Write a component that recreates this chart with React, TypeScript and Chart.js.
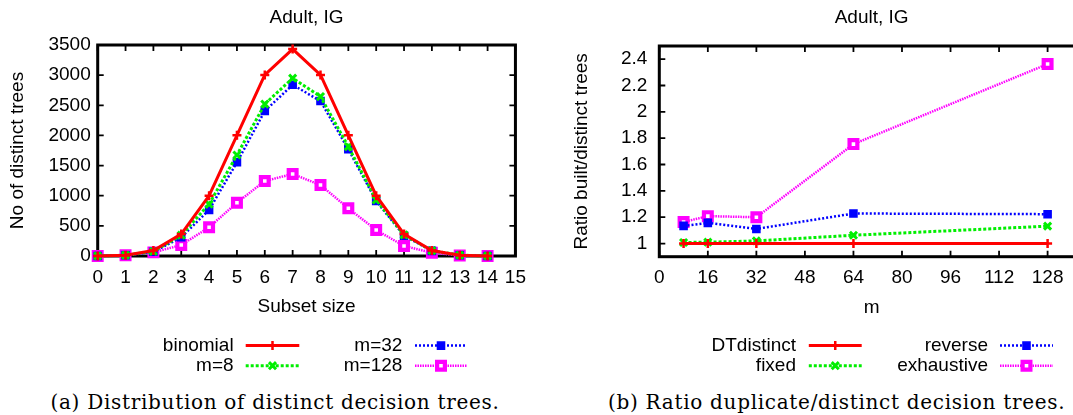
import React, { useEffect, useRef } from 'react';
import { Chart, registerables } from 'chart.js';
import { drawPoint } from 'chart.js/helpers';

Chart.register(...registerables);

// ---------- data ----------
const chartTitle = 'Adult, IG';

const subsetSizes = [0, 1, 2, 3, 4, 5, 6, 7, 8, 9, 10, 11, 12, 13, 14];
const binomial = [1, 14, 91, 364, 1001, 2002, 3003, 3432, 3003, 2002, 1001, 364, 91, 14, 1];
const m8 = [1, 13, 75, 345, 860, 1675, 2520, 2950, 2645, 1815, 930, 350, 88, 14, 1];
const m32 = [1, 13, 70, 310, 765, 1555, 2405, 2840, 2570, 1770, 912, 337, 85, 13, 1];
const m128 = [1, 12, 60, 182, 476, 884, 1244, 1360, 1177, 791, 431, 166, 55, 8, 1];

const leftXTicks = [0, 1, 2, 3, 4, 5, 6, 7, 8, 9, 10, 11, 12, 13, 14, 15];
const leftYTicks = [0, 500, 1000, 1500, 2000, 2500, 3000, 3500];

const mValues = [8, 16, 32, 64, 128];
const dtDistinct = [1, 1, 1, 1, 1];
const fixedRatio = [1.008, 1.01, 1.02, 1.063, 1.132];
const reverseRatio = [1.134, 1.157, 1.111, 1.228, 1.223];
const exhaustiveRatio = [1.164, 1.208, 1.2, 1.755, 2.363];

const rightXTicks = [0, 16, 32, 48, 64, 80, 96, 112, 128];
const rightYTicks = [1, 1.2, 1.4, 1.6, 1.8, 2, 2.2, 2.4];

const leftLabels = ['binomial', 'm=8', 'm=32', 'm=128'];
const rightLabels = ['DTdistinct', 'fixed', 'reverse', 'exhaustive'];

// ---------- styles ----------
type Sty = {
  color: string; width: number; dash: number[];
  pointStyle: string; radius: number; pointBorder: number; fill: string;
};
const STY: Sty[] = [
  { color: '#ff0000', width: 3, dash: [], pointStyle: 'cross', radius: 4.5, pointBorder: 2.5, fill: '#ff0000' },
  { color: '#00ee00', width: 3, dash: [3, 2], pointStyle: 'crossRot', radius: 5, pointBorder: 3, fill: '#00ee00' },
  { color: '#0000ff', width: 2.5, dash: [2, 2], pointStyle: 'rect', radius: 5, pointBorder: 1.5, fill: '#0000ff' },
  { color: '#ff00ff', width: 2.5, dash: [1.5, 1], pointStyle: 'rect', radius: 5.5, pointBorder: 4.2, fill: '#ffffff' },
];

const FONT_FAMILY = '"Liberation Sans", Arial, Helvetica, sans-serif';
const tickFont = { family: FONT_FAMILY, size: 19 };

function ds(label: string, xs: number[], ys: number[], s: Sty) {
  return {
    label,
    data: xs.map((x, i) => ({ x, y: ys[i] })),
    borderColor: s.color,
    backgroundColor: s.color,
    borderWidth: s.width,
    borderDash: s.dash,
    pointStyle: s.pointStyle,
    pointRadius: s.radius,
    pointBorderWidth: s.pointBorder,
    pointBorderColor: s.color,
    pointBackgroundColor: s.fill,
    tension: 0,
    clip: false as any,
  };
}

type LegendPos = { labelRight: number; x1: number; x2: number; y: number };

function decorPlugin(title: string, labels: string[], legendPos: LegendPos[], mirrorY: boolean) {
  return {
    id: 'decor',
    beforeDatasetsDraw(chart: any) {
      const { ctx, chartArea } = chart;
      const { left, right, top, bottom } = chartArea;
      const xs = chart.scales.x;
      const ys = chart.scales.y;
      ctx.save();
      ctx.strokeStyle = '#000';
      ctx.setLineDash([]);
      ctx.lineWidth = 1.8;
      const tl = 6;
      ctx.beginPath();
      for (const t of xs.ticks) {
        const px = xs.getPixelForValue(t.value);
        ctx.moveTo(px, bottom);
        ctx.lineTo(px, bottom - tl);
        ctx.moveTo(px, top);
        ctx.lineTo(px, top + tl);
      }
      for (const t of ys.ticks) {
        const py = ys.getPixelForValue(t.value);
        ctx.moveTo(left, py);
        ctx.lineTo(left + tl, py);
        if (mirrorY) {
          ctx.moveTo(right, py);
          ctx.lineTo(right - tl, py);
        }
      }
      ctx.stroke();
      ctx.lineWidth = 3;
      ctx.strokeRect(left, top, right - left, bottom - top);
      ctx.restore();
    },
    afterDraw(chart: any) {
      const { ctx, chartArea } = chart;
      ctx.save();
      ctx.fillStyle = '#000';
      ctx.font = `19px ${FONT_FAMILY}`;
      ctx.textAlign = 'center';
      ctx.textBaseline = 'middle';
      ctx.fillText(title, (chartArea.left + chartArea.right) / 2, 18);
      labels.forEach((lab, i) => {
        const p = legendPos[i];
        const s = STY[i];
        ctx.fillStyle = '#000';
        ctx.textAlign = 'right';
        ctx.fillText(lab, p.labelRight, p.y);
        ctx.strokeStyle = s.color;
        ctx.lineWidth = s.width;
        ctx.setLineDash(s.dash);
        ctx.beginPath();
        ctx.moveTo(p.x1, p.y);
        ctx.lineTo(p.x2, p.y);
        ctx.stroke();
        ctx.setLineDash([]);
        ctx.fillStyle = s.fill;
        ctx.strokeStyle = s.color;
        ctx.lineWidth = s.pointBorder;
        drawPoint(ctx, { pointStyle: s.pointStyle as any, radius: s.radius, borderWidth: s.pointBorder, rotation: 0 }, (p.x1 + p.x2) / 2, p.y);
      });
      ctx.restore();
    },
  };
}

function axisTitle(text: string, padding: any) {
  return { display: true, text, color: '#000', font: tickFont, padding };
}

function LeftChart() {
  const ref = useRef<HTMLCanvasElement>(null);
  useEffect(() => {
    const legendPos: LegendPos[] = [
      { labelRight: 233.6, x1: 245.7, x2: 299.3, y: 345.6 },
      { labelRight: 233.6, x1: 245.7, x2: 299.3, y: 365.7 },
      { labelRight: 402.4, x1: 415, x2: 467, y: 345.6 },
      { labelRight: 402.4, x1: 415, x2: 467, y: 365.7 },
    ];
    const chart = new Chart(ref.current as HTMLCanvasElement, {
      type: 'line',
      data: {
        datasets: [
          ds(leftLabels[0], subsetSizes, binomial, STY[0]),
          ds(leftLabels[1], subsetSizes, m8, STY[1]),
          ds(leftLabels[2], subsetSizes, m32, STY[2]),
          ds(leftLabels[3], subsetSizes, m128, STY[3]),
        ] as any,
      },
      options: {
        animation: false,
        responsive: false,
        devicePixelRatio: 1,
        layout: { padding: { top: 45, right: 13.3, bottom: 60, left: 0 } },
        plugins: { legend: { display: false }, tooltip: { enabled: false }, title: { display: false } },
        scales: {
          x: {
            type: 'linear', min: 0, max: 15,
            afterBuildTicks: (s: any) => { s.ticks = leftXTicks.map((v) => ({ value: v })); },
            afterFit: (s: any) => { s.height = 64; },
            grid: { display: false, drawTicks: false },
            border: { display: false },
            ticks: { padding: 10, color: '#000', font: tickFont, maxRotation: 0, autoSkip: false, callback: (v: any) => String(v) },
            title: axisTitle('Subset size', { top: 0, bottom: 1.6 }),
          },
          y: {
            type: 'linear', min: 0, max: 3500,
            afterBuildTicks: (s: any) => { s.ticks = leftYTicks.map((v) => ({ value: v })); },
            afterFit: (s: any) => { s.width = 97.7; },
            grid: { display: false, drawTicks: false },
            border: { display: false },
            ticks: { padding: 7, color: '#000', font: tickFont, autoSkip: false, callback: (v: any) => String(v) },
            title: axisTitle('No of distinct trees', { top: 6.6, bottom: 0 }),
          },
        },
      } as any,
      plugins: [decorPlugin(chartTitle, leftLabels, legendPos, true)],
    });
    return () => chart.destroy();
  }, []);
  return <canvas ref={ref} width={536} height={380} style={{ position: 'absolute', left: 0, top: 0 }} />;
}

function RightChart() {
  const ref = useRef<HTMLCanvasElement>(null);
  useEffect(() => {
    const legendPos: LegendPos[] = [
      { labelRight: 260, x1: 272.8, x2: 325.7, y: 345.6 },
      { labelRight: 260, x1: 272.8, x2: 325.7, y: 365.7 },
      { labelRight: 452, x1: 464, x2: 517, y: 345.6 },
      { labelRight: 452, x1: 464, x2: 517, y: 365.7 },
    ];
    const chart = new Chart(ref.current as HTMLCanvasElement, {
      type: 'line',
      data: {
        datasets: [
          ds(rightLabels[0], mValues, dtDistinct, STY[0]),
          ds(rightLabels[1], mValues, fixedRatio, STY[1]),
          ds(rightLabels[2], mValues, reverseRatio, STY[2]),
          ds(rightLabels[3], mValues, exhaustiveRatio, STY[3]),
        ] as any,
      },
      options: {
        animation: false,
        responsive: false,
        devicePixelRatio: 1,
        layout: { padding: { top: 46, right: 12, bottom: 59.3, left: 0 } },
        plugins: { legend: { display: false }, tooltip: { enabled: false }, title: { display: false } },
        scales: {
          x: {
            type: 'linear', min: 0, max: 140,
            afterBuildTicks: (s: any) => { s.ticks = rightXTicks.map((v) => ({ value: v })); },
            afterFit: (s: any) => { s.height = 64; },
            grid: { display: false, drawTicks: false },
            border: { display: false },
            ticks: { padding: 10, color: '#000', font: tickFont, maxRotation: 0, autoSkip: false, callback: (v: any) => String(v) },
            title: axisTitle('m', { top: 0, bottom: 1.6 }),
          },
          y: {
            type: 'linear', min: 0.9, max: 2.5,
            afterBuildTicks: (s: any) => { s.ticks = rightYTicks.map((v) => ({ value: v })); },
            afterFit: (s: any) => { s.width = 123.3; },
            grid: { display: false, drawTicks: false },
            border: { display: false },
            ticks: { padding: 12, color: '#000', font: tickFont, autoSkip: false, callback: (v: any) => String(Number(Number(v).toFixed(1))) },
            title: axisTitle('Ratio built/distinct trees', { top: 34.3, bottom: 0 }),
          },
        },
      } as any,
      plugins: [decorPlugin(chartTitle, rightLabels, legendPos, false)],
    });
    return () => chart.destroy();
  }, []);
  return <canvas ref={ref} width={560} height={380} style={{ position: 'absolute', left: 536, top: 0 }} />;
}

const captionStyle: React.CSSProperties = {
  position: 'absolute',
  width: 600,
  textAlign: 'center',
  fontFamily: '"DejaVu Serif", "Liberation Serif", serif',
  fontSize: 20,
  letterSpacing: '0.7px',
  lineHeight: '24px',
  top: 389.5,
  whiteSpace: 'nowrap',
  color: '#000',
};

export default function App() {
  return (
    <div style={{ position: 'fixed', left: 0, top: 0, width: 1073, height: 415, overflow: 'hidden', background: '#fff' }}>
      <LeftChart />
      <RightChart />
      <div style={{ ...captionStyle, left: 275 - 300 }}>(a) Distribution of distinct decision trees.</div>
      <div style={{ ...captionStyle, left: 836.7 - 300 }}>(b) Ratio duplicate/distinct decision trees.</div>
    </div>
  );
}
